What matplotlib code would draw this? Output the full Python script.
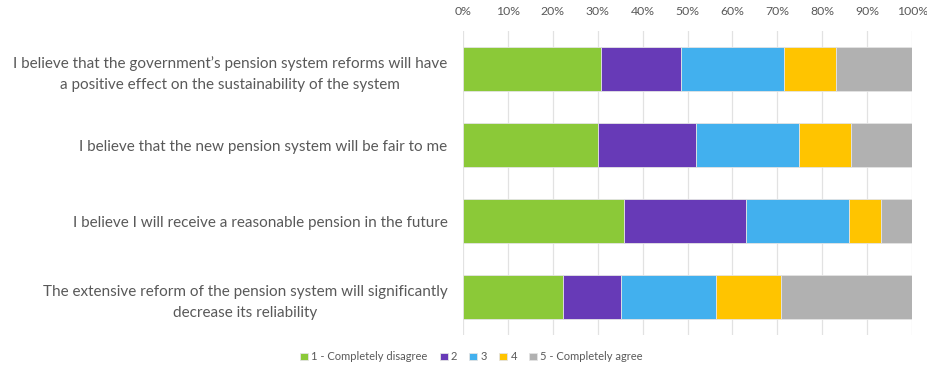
import matplotlib

matplotlib.use("Agg")
import matplotlib.pyplot as plt
import numpy as np

plt.rcParams["font.family"] = ["Lato", "DejaVu Sans"]

statements = [
    "I believe that the government\u2019s pension system reforms will have\na positive effect on the sustainability of the system",
    "I believe that the new pension system will be fair to me",
    "I believe I will receive a reasonable pension in the future",
    "The extensive reform of the pension system will significantly\ndecrease its reliability",
]
responses = ["1 - Completely disagree", "2", "3", "4", "5 - Completely agree"]

# share of respondents (%) per answer, one list per statement
s1 = [30.7, 17.9, 22.9, 11.6, 16.9]
s2 = [30.2, 21.7, 22.9, 11.5, 13.7]
s3 = [35.9, 27.2, 22.8, 7.1, 7.0]
s4 = [22.3, 12.8, 21.2, 14.4, 29.3]

colors = ["#8BC938", "#673AB7", "#42B0EE", "#FFC400", "#B1B1B1"]
TEXT = "#595959"

shares = np.array([s1, s2, s3, s4])
y = np.arange(len(statements))

fig = plt.figure(figsize=(9.28, 3.69), dpi=100)
ax = fig.add_axes([0.4986, 0.092, 0.4845, 0.824])

left = np.zeros(len(statements))
for i, (name, c) in enumerate(zip(responses, colors)):
    ax.barh(y, shares[:, i], left=left, height=0.59, color=c, label=name,
            edgecolor="#e4e4e4", linewidth=0.6, zorder=3)
    left += shares[:, i]

ax.set_xlim(0, 100)
ax.set_ylim(len(statements) - 0.5, -0.5)
ax.xaxis.tick_top()
ax.set_xticks(np.arange(0, 101, 10))
ax.set_xticklabels([f"{v}%" for v in range(0, 101, 10)])
ax.tick_params(axis="x", length=0, pad=10, labelsize=8.8, labelcolor=TEXT)
ax.grid(axis="x", color="#e2e2e2", linewidth=0.9, zorder=0)

ax.set_yticks(y)
ax.set_yticklabels(statements)
ax.tick_params(axis="y", length=0, pad=11, labelsize=11, labelcolor=TEXT)
for t in ax.get_yticklabels():
    t.set_multialignment("center")
    t.set_linespacing(1.65)

for sp in ax.spines.values():
    sp.set_visible(False)

fig.legend(loc="center", bbox_to_anchor=(0.508, 0.033), ncol=5, frameon=False,
           fontsize=8, labelcolor=TEXT, handlelength=0.7, handleheight=0.7,
           handletextpad=0.3, columnspacing=1.1)

fig.savefig("out.png", dpi=100)
